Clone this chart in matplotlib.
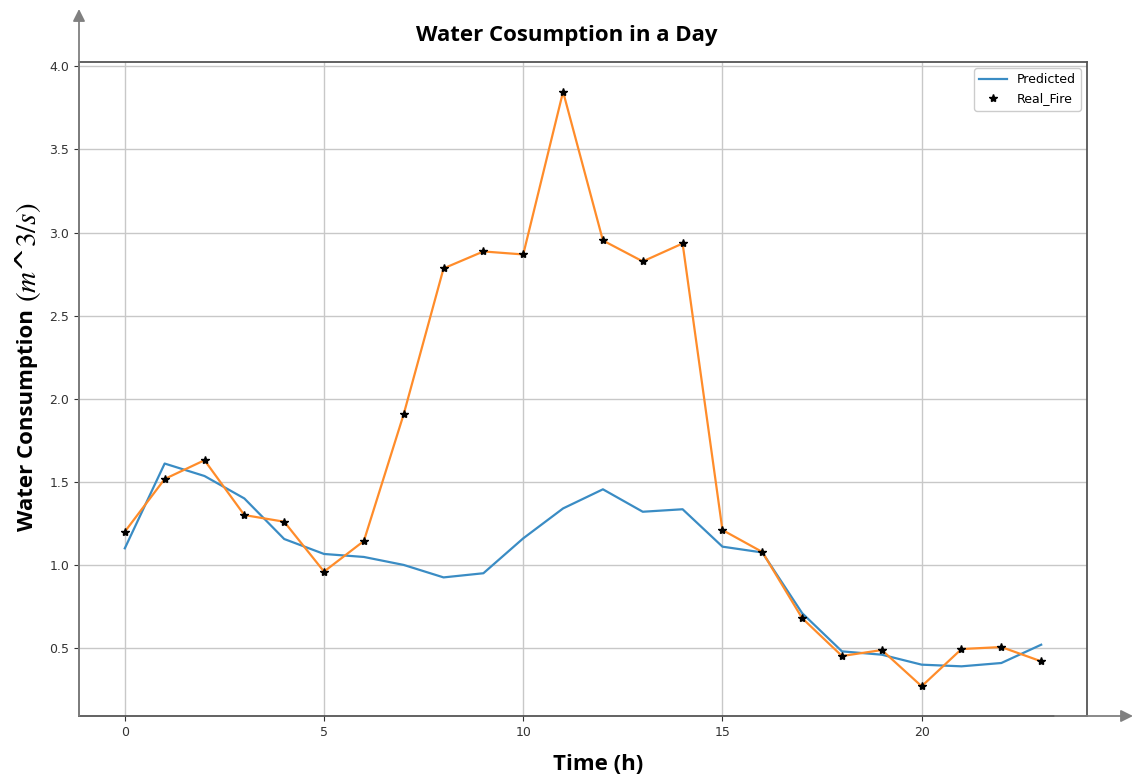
import matplotlib
matplotlib.use("Agg")
import matplotlib.pyplot as plt

hours = list(range(24))
predicted = [1.10, 1.61, 1.535, 1.40, 1.156, 1.066, 1.048, 1.00, 0.925, 0.95, 1.16, 1.34,
             1.455, 1.32, 1.335, 1.11, 1.075, 0.71, 0.48, 0.46, 0.40, 0.39, 0.41, 0.52]
real_fire = [1.20, 1.517, 1.63, 1.30, 1.26, 0.96, 1.144, 1.907, 2.784, 2.886, 2.868, 3.847,
             2.952, 2.826, 2.934, 1.21, 1.078, 0.68, 0.452, 0.488, 0.27, 0.494, 0.506, 0.42]
xticks = [0, 5, 10, 15, 20]
yticks = [0.5, 1.0, 1.5, 2.0, 2.5, 3.0, 3.5, 4.0]

plt.rcParams['mathtext.fontset'] = 'stix'
W, H = 1134, 780
fig = plt.figure(figsize=(W / 100, H / 100), dpi=100)
ax = fig.add_axes([79 / W, 1 - 716 / H, (1087 - 79) / W, (716 - 62) / H])

ax.plot(hours, predicted, color='#3a8cc4', lw=1.6, label='Predicted')
ax.plot(hours, real_fire, color='#ff8c2a', lw=1.6)
ax.plot(hours, real_fire, 'k*', ms=6, label='Real_Fire')

ax.set_xticks(xticks)
ax.set_yticks(yticks)
ax.grid(True, color='#c8c8c8', lw=1)
ax.tick_params(labelsize=9, colors='#333333', length=3.5)
for s in ax.spines.values():
    s.set_color('#555555')
    s.set_linewidth(1.3)

ax.legend(loc='upper right', fontsize=9, handlelength=2.2, framealpha=1)

fig.text(567 / W, 1 - 35 / H, 'Water Cosumption in a Day', ha='center', va='center',
         fontsize=16, fontweight='bold', family='Open Sans')
fig.text(598 / W, 1 - 764 / H, 'Time (h)', ha='center', va='center',
         fontsize=16, fontweight='bold', family='Open Sans')
fig.text(28 / W, 1 - 531 / H, 'Water Consumption', ha='left', va='center',
         rotation=90, rotation_mode='anchor', fontsize=16, fontweight='bold', family='Open Sans')
fig.text(28 / W, 1 - 302 / H, '$(m$^$3/s)$', ha='left', va='center',
         rotation=90, rotation_mode='anchor', fontsize=21)

arrow_kw = dict(arrowstyle='-|>', color='#808080', lw=1.3, mutation_scale=18, shrinkA=0, shrinkB=0)
fig.add_artist(matplotlib.patches.FancyArrowPatch((79 / W, 1 - 716 / H), (79 / W, 1 - 9 / H),
                                                  transform=fig.transFigure, **arrow_kw))
fig.add_artist(matplotlib.patches.FancyArrowPatch((1055 / W, 1 - 716 / H), (1133 / W, 1 - 716 / H),
                                                  transform=fig.transFigure, **arrow_kw))

fig.savefig('out.png', dpi=100)
